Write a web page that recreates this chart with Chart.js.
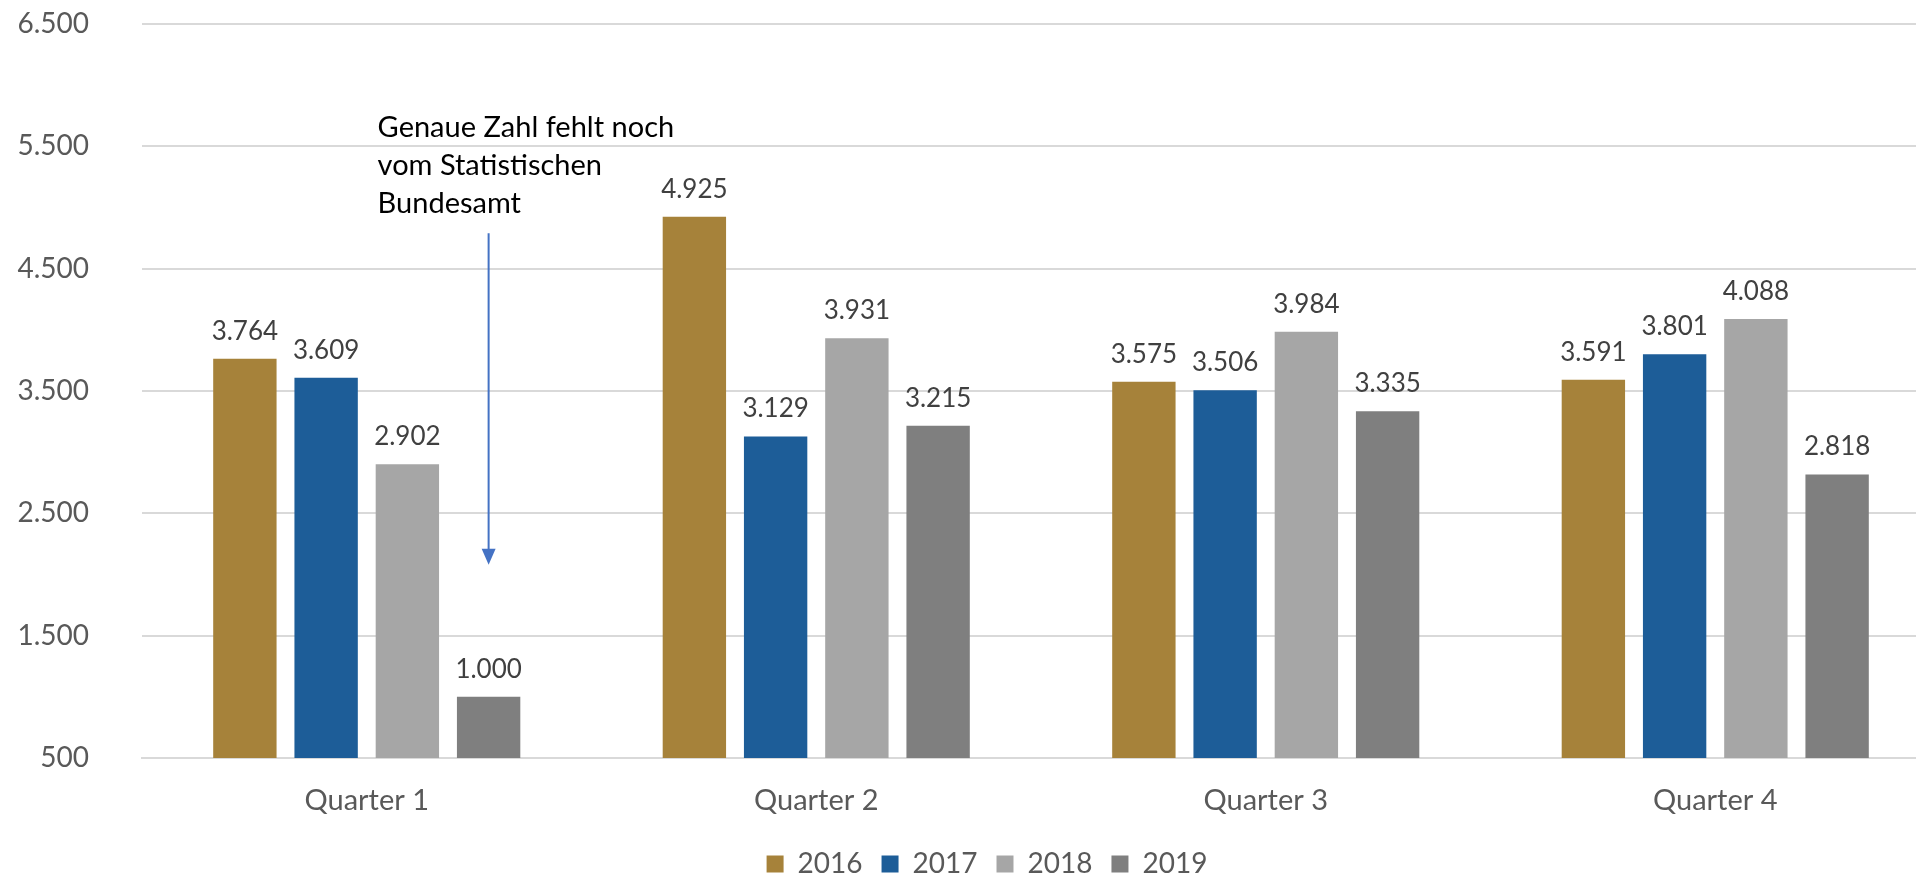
<!DOCTYPE html>
<html>
<head>
<meta charset="utf-8">
<title>Quartale 2016 - 2019</title>
<script src="https://cdn.jsdelivr.net/npm/chart.js@4.4.1/dist/chart.umd.min.js"></script>
<style>
    html, body { margin: 0; padding: 0; background: #fff; overflow: hidden; }
    canvas { display: block; }
</style>
</head>
<body>
<canvas id="quarterChart" width="1974" height="874"></canvas>
<script>
const quarters = ['Quarter 1', 'Quarter 2', 'Quarter 3', 'Quarter 4'];
const years = ['2016', '2017', '2018', '2019'];

const values2016 = [3764, 4925, 3575, 3591];
const values2017 = [3609, 3129, 3506, 3801];
const values2018 = [2902, 3931, 3984, 4088];
const values2019 = [1000, 3215, 3335, 2818];

const yearColors = ['#a6823a', '#1d5d98', '#a6a6a6', '#7f7f7f'];

const yMin = 500;
const yMax = 6500;
const yStep = 1000;

// note above the missing Q1 2019 figure
const noteLines = ['Genaue Zahl fehlt noch', 'vom Statistischen', 'Bundesamt'];
const noteTop = 5650;
const arrowFrom = 4790;
const arrowTo = 2080;

const fontFamily = 'Lato, "Open Sans", sans-serif';

function formatDe(v) {
    return String(v).replace(/\B(?=(\d{3})+(?!\d))/g, '.');
}

const valueLabels = {
    id: 'valueLabels',
    afterDatasetsDraw(chart) {
        const ctx = chart.ctx;
        ctx.save();
        ctx.font = '26px ' + fontFamily;
        ctx.fillStyle = '#404040';
        ctx.textAlign = 'center';
        ctx.textBaseline = 'alphabetic';
        chart.data.datasets.forEach((ds, i) => {
            chart.getDatasetMeta(i).data.forEach((bar, j) => {
                ctx.fillText(formatDe(ds.data[j]), bar.x, bar.y - 19);
            });
        });
        ctx.restore();
    }
};

const missingNote = {
    id: 'missingNote',
    afterDatasetsDraw(chart) {
        const ctx = chart.ctx;
        const y = chart.scales.y;
        const bar = chart.getDatasetMeta(3).data[0];
        const x = bar.x;

        ctx.save();
        ctx.font = '29px ' + fontFamily;
        ctx.fillStyle = '#000';
        ctx.textAlign = 'left';
        ctx.textBaseline = 'middle';
        const top = y.getPixelForValue(noteTop);
        noteLines.forEach((line, i) => {
            ctx.fillText(line, x - 111, top + i * 38);
        });

        const y0 = y.getPixelForValue(arrowFrom);
        const y1 = y.getPixelForValue(arrowTo);
        ctx.strokeStyle = '#4472c4';
        ctx.fillStyle = '#4472c4';
        ctx.lineWidth = 2;
        ctx.beginPath();
        ctx.moveTo(x, y0);
        ctx.lineTo(x, y1 - 12);
        ctx.stroke();
        ctx.beginPath();
        ctx.moveTo(x - 7, y1 - 16);
        ctx.lineTo(x + 7, y1 - 16);
        ctx.lineTo(x, y1);
        ctx.closePath();
        ctx.fill();
        ctx.restore();
    }
};

// move the legend to where Excel put it
const legendShift = {
    id: 'legendShift',
    afterLayout(chart) {
        chart.legend.top += 14;
        chart.legend.bottom += 14;
        chart.legend.left += 17;
        chart.legend.right += 17;
    }
};

const seriesValues = [values2016, values2017, values2018, values2019];

const datasets = years.map((year, i) => ({
    label: year,
    data: seriesValues[i],
    backgroundColor: yearColors[i],
    barPercentage: 0.78,
    categoryPercentage: 0.723
}));

const ctx = document.getElementById('quarterChart').getContext('2d');
new Chart(ctx, {
    type: 'bar',
    data: {
        labels: quarters,
        datasets: datasets
    },
    options: {
        responsive: false,
        animation: false,
        layout: {
            padding: { left: 0, right: 34, top: 24, bottom: 0 }
        },
        scales: {
            x: {
                grid: { display: false, drawTicks: false },
                border: { display: true, color: '#d9d9d9', width: 2 },
                ticks: {
                    color: '#595959',
                    font: { family: fontFamily, size: 29 },
                    padding: 25
                },
                afterFit(scale) {
                    scale.height = 59;
                }
            },
            y: {
                min: yMin,
                max: yMax,
                ticks: {
                    stepSize: yStep,
                    color: '#595959',
                    font: { family: fontFamily, size: 28 },
                    padding: 53,
                    callback: v => formatDe(v)
                },
                grid: { color: '#d9d9d9', lineWidth: 2, drawTicks: false },
                border: { display: false },
                afterFit(scale) {
                    scale.width = 142;
                    scale.paddingTop = 0;
                    scale.paddingBottom = 0;
                }
            }
        },
        plugins: {
            legend: {
                position: 'bottom',
                labels: {
                    color: '#595959',
                    font: { family: fontFamily, size: 28 },
                    boxWidth: 17,
                    boxHeight: 17,
                    padding: 19
                }
            },
            tooltip: { enabled: false }
        }
    },
    plugins: [valueLabels, missingNote, legendShift]
});
</script>
</body>
</html>
